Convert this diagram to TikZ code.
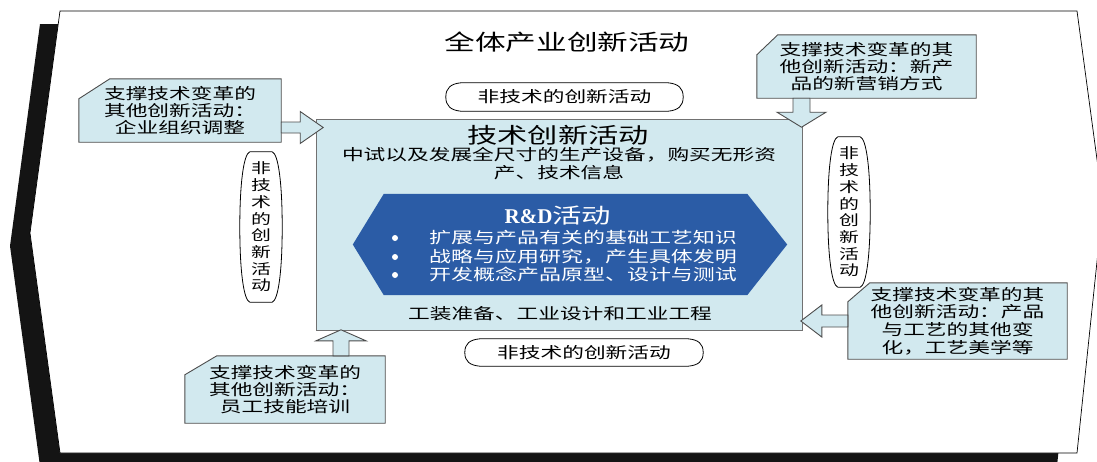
\documentclass[tikz,border=0pt]{standalone}
\usepackage{fontspec}
\setmainfont{Liberation Serif}
\newfontfamily\cjk[FakeStretch=1.4]{Noto Sans CJK SC}
\usetikzlibrary{calc}
\definecolor{lightfill}{HTML}{D2E9EF}
\definecolor{rdblue}{HTML}{2B5CA6}
\definecolor{edgegray}{HTML}{4D4D4D}
\pgfdeclarelayer{back}
\pgfdeclarelayer{mid}
\pgfsetlayers{back,mid,main}
\newcommand\hbarrel[1]{%
 \draw[ovalline] ($(#1.north west)+(15,0)$) -- ($(#1.north east)+(-15,0)$)
  .. controls ($(#1.north east)+(-5,1)$) and ($(#1.east)+(0,-9)$) .. (#1.east)
  .. controls ($(#1.east)+(0,9)$) and ($(#1.south east)+(-5,-1)$) .. ($(#1.south east)+(-15,0)$)
  -- ($(#1.south west)+(15,0)$)
  .. controls ($(#1.south west)+(5,-1)$) and ($(#1.west)+(0,9)$) .. (#1.west)
  .. controls ($(#1.west)+(0,-9)$) and ($(#1.north west)+(5,1)$) .. ($(#1.north west)+(15,0)$) -- cycle;}
\newcommand\vbarrel[1]{%
 \draw[ovalline] ($(#1.north west)+(10,0)$) -- ($(#1.north east)+(-10,0)$)
  .. controls ($(#1.north east)+(-4,2)$) and ($(#1.east)+(0,-45)$) .. (#1.east)
  .. controls ($(#1.east)+(0,45)$) and ($(#1.south east)+(-4,-2)$) .. ($(#1.south east)+(-10,0)$)
  -- ($(#1.south west)+(10,0)$)
  .. controls ($(#1.south west)+(4,-2)$) and ($(#1.west)+(0,45)$) .. (#1.west)
  .. controls ($(#1.west)+(0,-45)$) and ($(#1.north west)+(4,2)$) .. ($(#1.north west)+(10,0)$) -- cycle;}
\newcommand\snipbox[3]{%
 \draw[callbox] ($(#1.north west)+(0,#3)$) -- ($(#1.north west)+(#2,0)$) -- (#1.north east) -- (#1.south east) -- (#1.south west) -- cycle;}
\newcommand\blockarrow[6]{%
 \draw[callbox, shift={(#1)}, rotate=#2] (0,-#4) -- ({#3-#6},-#4) -- ({#3-#6},-#5) -- (#3,0) -- ({#3-#6},#5) -- ({#3-#6},#4) -- (0,#4) -- cycle;}
\begin{document}
\begin{tikzpicture}[x=1pt,y=-1pt,
  txt/.style={inner sep=0pt, align=center, font=\cjk\fontsize{15.5}{17}\selectfont},
  vtxt/.style={inner sep=0pt, align=center, font=\cjk\fontsize{14.2}{16.7}\selectfont},
  callbox/.style={fill=lightfill, draw=edgegray, line width=0.9pt, line join=miter},
  ovalline/.style={fill=white, draw=black, line width=0.8pt},
  dot/.style={circle, fill=white, inner sep=0pt, minimum size=6pt}]
\useasboundingbox (0,0) rectangle (1097,461);
\clip (0,0) rectangle (1097,461);
% outer frame
\begin{pgfonlayer}{back}
\fill[black!92] (40,24) -- (1057,24) -- (1083,217) -- (1057,466) -- (40,466) -- (10,246) -- cycle;
\draw[fill=white, draw=black, line width=0.7pt] (60,11) -- (1077,11) -- (1103,204) -- (1077,453) -- (60,453) -- (30,233) -- cycle;
\end{pgfonlayer}
% text nodes
\node[inner sep=0pt, font=\cjk\fontsize{21.9}{24}\selectfont] (title) at (567,42) {全体产业创新活动};
\node[minimum width=485pt, minimum height=210pt, inner sep=0pt] (tech) at (559.5,225) {};
\node[inner sep=0pt, font=\cjk\fontsize{21.6}{24}\selectfont] (techt) at (558,135) {技术创新活动};
\node[txt, font=\cjk\fontsize{15.5}{18}\selectfont] (techd) at (559,164) {中试以及发展全尺寸的生产设备，购买无形资\\产、技术信息};
\node[minimum width=434pt, minimum height=101pt, inner sep=0pt] (rd) at (570,244.5) {};
\node[inner sep=0pt, text=white, font=\fontsize{21}{24}\selectfont] (rdt) at (558,216) {{\bfseries R\&D}{\cjk 活动}};
\node[dot] (b1) at (395,238) {};
\node[dot] (b2) at (395,257) {};
\node[dot] (b3) at (395,275) {};
\node[inner sep=0pt, align=left, anchor=west, text=white, font=\cjk\fontsize{15.7}{18.5}\selectfont] (rdl) at (429,256.5) {扩展与产品有关的基础工艺知识\\战略与应用研究，产生具体发明\\开发概念产品原型、设计与测试};
\node[txt] (techb) at (560,314) {工装准备、工业设计和工业工程};
% callouts
\node[txt, minimum width=202pt, minimum height=63pt] (c1) at (180,110.5) {支撑技术变革的\\其他创新活动：\\企业组织调整};
\node[txt, minimum width=219pt, minimum height=63pt] (c2) at (866.5,66.5) {支撑技术变革的其\\他创新活动：新产\\品的新营销方式};
\node[txt, font=\cjk\fontsize{15.5}{17.6}\selectfont, minimum width=219pt, minimum height=76pt] (c3) at (957.5,321) {支撑技术变革的其\\他创新活动：产品\\与工艺的其他变\\化，工艺美学等};
\node[txt, minimum width=200pt, minimum height=67pt] (c4) at (285,389.5) {支撑技术变革的\\其他创新活动：\\员工技能培训};
% non-technical ovals
\node[txt, minimum width=237pt, minimum height=28pt] (o1) at (564.5,97) {非技术的创新活动};
\node[txt, minimum width=238pt, minimum height=27pt] (o2) at (584,352.5) {非技术的创新活动};
\node[vtxt, minimum width=42pt, minimum height=150pt] (o3) at (261,227) {非\\技\\术\\的\\创\\新\\活\\动};
\node[vtxt, minimum width=42pt, minimum height=150pt] (o4) at (849,212) {非\\技\\术\\的\\创\\新\\活\\动};
% arrow start points
\coordinate (a1) at (c1.east |- 0,127.5);
\coordinate (a2) at (c2.south -| 801.5,0);
\coordinate (a3) at (c3.west |- 0,321);
\coordinate (a4) at (c4.north -| 341,0);
\begin{pgfonlayer}{mid}
\draw[fill=lightfill, draw=edgegray!80, line width=1.1pt] (tech.north west) rectangle (tech.south east);
\fill[rdblue] (rd.west) -- ($(rd.north west)+(31,0)$) -- ($(rd.north east)+(-40,0)$) -- (rd.east) -- ($(rd.south east)+(-40,0)$) -- ($(rd.south west)+(31,0)$) -- cycle;
\snipbox{c1}{31}{20}
\snipbox{c2}{21}{20}
\snipbox{c3}{22}{19}
\snipbox{c4}{32}{19}
\blockarrow{a1}{0}{42}{5.5}{16}{23}
\blockarrow{a2}{-90}{29}{8.5}{24.5}{15}
\blockarrow{a3}{180}{47}{6}{16}{21}
\blockarrow{a4}{90}{26}{8}{25}{11}
\hbarrel{o1}
\hbarrel{o2}
\vbarrel{o3}
\vbarrel{o4}
\end{pgfonlayer}
\end{tikzpicture}
\end{document}
